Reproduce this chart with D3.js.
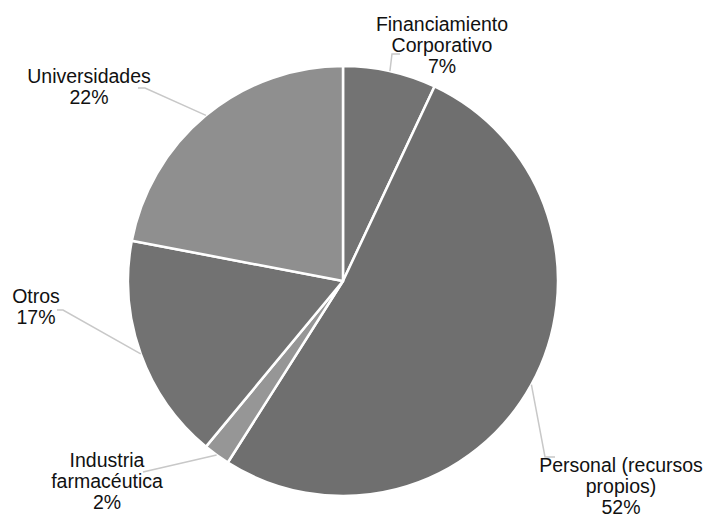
<!DOCTYPE html>
<html>
<head>
<meta charset="utf-8">
<script src="https://cdn.jsdelivr.net/npm/d3@7"></script>
<style>
  body { margin: 0; background: #fff; }
  text { font-family: "Liberation Sans", Arial, Helvetica, sans-serif; }
</style>
</head>
<body>
<script>

var width = 707,
	height = 518,
	radius = 215;

// data
var categories = ['Financiamiento Corporativo', 'Personal (recursos propios)', 'Industria farmacéutica', 'Otros', 'Universidades'];
var values = [7, 52, 2, 17, 22];
var labelLines = [
	['Financiamiento', 'Corporativo', '7%'],
	['Personal (recursos', 'propios)', '52%'],
	['Industria', 'farmacéutica', '2%'],
	['Otros', '17%'],
	['Universidades', '22%']
];

// layout of the labels (relative to pie centre): text anchor + leader elbow
var labelLayout = [
	{tx: 99, ty: -250, ex: 49, ey: -227, hx: 57},
	{tx: 278, ty: 191, ex: 202, ey: 176, hx: 212},
	{tx: -236, ty: 186, ex: -200, ey: 191, hx: -200},
	{tx: -307, ty: 22, ex: -280, ey: 29, hx: -286},
	{tx: -254, ty: -198, ex: -198, ey: -193, hx: -205}
];

var colors = ['#737373', '#6f6f6f', '#969696', '#727272', '#8f8f8f'];

var cx = 343, cy = 281;

var svg = d3.select('body').append('svg')
			.attr('width', width)
			.attr('height', height);

var g = svg.append('g')
	.attr('transform', 'translate(' + cx + ',' + cy + ')');

var data = categories.map(function(c, i){
	return {name: c, value: values[i], lines: labelLines[i], lay: labelLayout[i], color: colors[i]};
});

var pie = d3.pie()
	.value(function(d){ return d.value; })
	.sort(null);

var arc = d3.arc()
	.innerRadius(0)
	.outerRadius(radius);

var arcs = pie(data);

g.selectAll('.slice')
	.data(arcs)
	.enter().append('path').classed('slice', true)
	.attr('d', arc)
	.attr('fill', function(d){ return d.data.color; })
	.attr('stroke', '#fff')
	.attr('stroke-width', 2.5)
	.attr('stroke-linejoin', 'round');

// leader lines
g.selectAll('.leader')
	.data(arcs)
	.enter().append('polyline').classed('leader', true)
	.attr('points', function(d){
		var a = (d.startAngle + d.endAngle) / 2;
		var p0 = [Math.sin(a) * radius, -Math.cos(a) * radius];
		var l = d.data.lay;
		return [p0, [l.ex, l.ey], [l.hx, l.ey]].map(function(p){ return p.join(','); }).join(' ');
	})
	.attr('fill', 'none')
	.attr('stroke', '#c8c8c8')
	.attr('stroke-width', 1.5);

// labels
var labels = g.selectAll('.lbl')
	.data(arcs)
	.enter().append('text').classed('lbl', true)
	.attr('text-anchor', 'middle')
	.attr('font-size', 19.5)
	.attr('fill', '#111');

labels.selectAll('tspan')
	.data(function(d){ return d.data.lines.map(function(t){ return {t: t, lay: d.data.lay}; }); })
	.enter().append('tspan')
	.attr('x', function(d){ return d.lay.tx; })
	.attr('y', function(d, i){ return d.lay.ty + i * 21; })
	.text(function(d){ return d.t; });

</script>
</body>
</html>
